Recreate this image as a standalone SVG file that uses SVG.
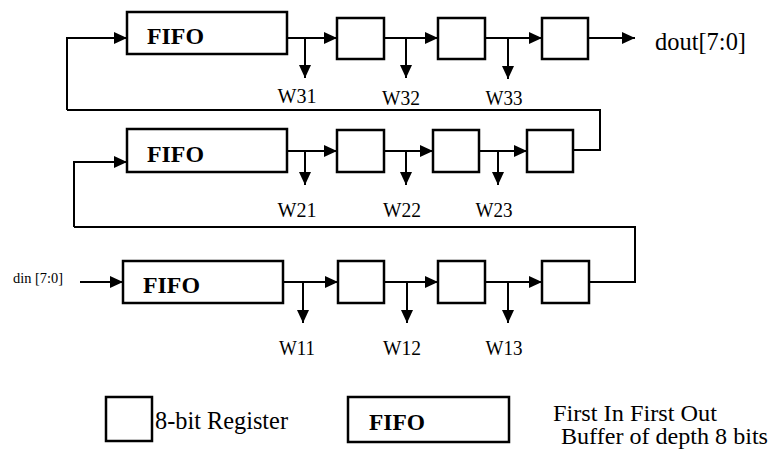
<svg xmlns="http://www.w3.org/2000/svg" width="772" height="453" viewBox="0 0 772 453">
<style>
.box{fill:#fff;stroke:#000;stroke-width:2.5}
.ln{fill:none;stroke:#000;stroke-width:2}
.ar{fill:none;stroke:#000;stroke-width:2;marker-end:url(#ah)}
text{font-family:"Liberation Serif","Times New Roman",Tinos,"DejaVu Serif",serif;fill:#000}
.fifo{font-weight:bold;font-size:24px}
.w{font-size:20px;text-anchor:middle}
.t{font-size:23px}
</style>
<defs>
<marker id="ah" viewBox="0 0 13 12" refX="13" refY="6" markerWidth="13" markerHeight="12" markerUnits="userSpaceOnUse" orient="auto">
<path d="M0,0 L13,6 L0,12 Z" fill="#000"/>
</marker>
</defs>
<rect width="772" height="453" fill="#fff"/>
<g id="connectors">
<path class="ar" d="M67,110 V38 H127"/>
<path class="ar" d="M287,38 H337"/>
<path class="ar" d="M305,38 V78"/>
<path class="ar" d="M384,38 H438"/>
<path class="ar" d="M406,38 V78"/>
<path class="ar" d="M485,38 H542"/>
<path class="ar" d="M508,38 V79"/>
<path class="ar" d="M588,38 H635"/>
<path class="ln" d="M573,150 H600 V110 H67"/>
<path class="ar" d="M74,227 V162 H127"/>
<path class="ar" d="M287,151 H337"/>
<path class="ar" d="M305,151 V185"/>
<path class="ar" d="M384,151 H433"/>
<path class="ar" d="M406,151 V185"/>
<path class="ar" d="M479,151 H527"/>
<path class="ar" d="M498,151 V185"/>
<path class="ln" d="M589,282 H635 V227 H74"/>
<path class="ar" d="M80,282 H123"/>
<path class="ar" d="M283,282 H338"/>
<path class="ar" d="M303,282 V323"/>
<path class="ar" d="M384,282 H438"/>
<path class="ar" d="M407,282 V323"/>
<path class="ar" d="M485,282 H542"/>
<path class="ar" d="M508,282 V323"/>
</g>
<g id="fifoA"><rect class="box" x="127" y="12" width="160" height="42"/><text class="fifo" x="147" y="44" textLength="57" lengthAdjust="spacingAndGlyphs">FIFO</text></g>
<g id="regA1"><rect class="box" x="337" y="18" width="47" height="41"/></g>
<g id="regA2"><rect class="box" x="438" y="18" width="47" height="41"/></g>
<g id="regA3"><rect class="box" x="542" y="18" width="46" height="41"/></g>
<g id="fifoB"><rect class="box" x="127" y="129" width="160" height="43"/><text class="fifo" x="147" y="162" textLength="57" lengthAdjust="spacingAndGlyphs">FIFO</text></g>
<g id="regB1"><rect class="box" x="337" y="130" width="47" height="42"/></g>
<g id="regB2"><rect class="box" x="433" y="130" width="46" height="42"/></g>
<g id="regB3"><rect class="box" x="527" y="130" width="46" height="42"/></g>
<g id="fifoC"><rect class="box" x="123" y="261" width="160" height="42"/><text class="fifo" x="143" y="293" textLength="57" lengthAdjust="spacingAndGlyphs">FIFO</text></g>
<g id="regC1"><rect class="box" x="338" y="261" width="46" height="42"/></g>
<g id="regC2"><rect class="box" x="438" y="261" width="47" height="42"/></g>
<g id="regC3"><rect class="box" x="542" y="261" width="47" height="42"/></g>
<g id="labels">
<text class="w" x="297" y="103" textLength="39" lengthAdjust="spacingAndGlyphs">W31</text>
<text class="w" x="401" y="105" textLength="38" lengthAdjust="spacingAndGlyphs">W32</text>
<text class="w" x="504" y="105" textLength="37" lengthAdjust="spacingAndGlyphs">W33</text>
<text class="w" x="297" y="217" textLength="39" lengthAdjust="spacingAndGlyphs">W21</text>
<text class="w" x="402" y="217" textLength="38" lengthAdjust="spacingAndGlyphs">W22</text>
<text class="w" x="494" y="217" textLength="37" lengthAdjust="spacingAndGlyphs">W23</text>
<text class="w" x="297" y="355" textLength="36" lengthAdjust="spacingAndGlyphs">W11</text>
<text class="w" x="402" y="355" textLength="38" lengthAdjust="spacingAndGlyphs">W12</text>
<text class="w" x="504" y="355" textLength="37" lengthAdjust="spacingAndGlyphs">W13</text>
<text x="655" y="50" font-size="25" textLength="91" lengthAdjust="spacingAndGlyphs">dout[7:0]</text>
<text x="13" y="283" font-size="14" textLength="50" lengthAdjust="spacingAndGlyphs">din [7:0]</text>
</g>
<g id="legendReg"><rect class="box" x="106" y="397" width="46" height="44"/><text x="155" y="429" font-size="25" textLength="133" lengthAdjust="spacingAndGlyphs">8-bit Register</text></g>
<g id="legendFifo"><rect class="box" x="348" y="397" width="161" height="45"/><text class="fifo" x="369" y="430" textLength="56" lengthAdjust="spacingAndGlyphs">FIFO</text></g>
<g id="legendText">
<text class="t" x="553" y="421" textLength="164" lengthAdjust="spacingAndGlyphs">First In First Out</text>
<text class="t" x="561" y="444" textLength="207" lengthAdjust="spacingAndGlyphs">Buffer of depth 8 bits</text>
</g>
</svg>
